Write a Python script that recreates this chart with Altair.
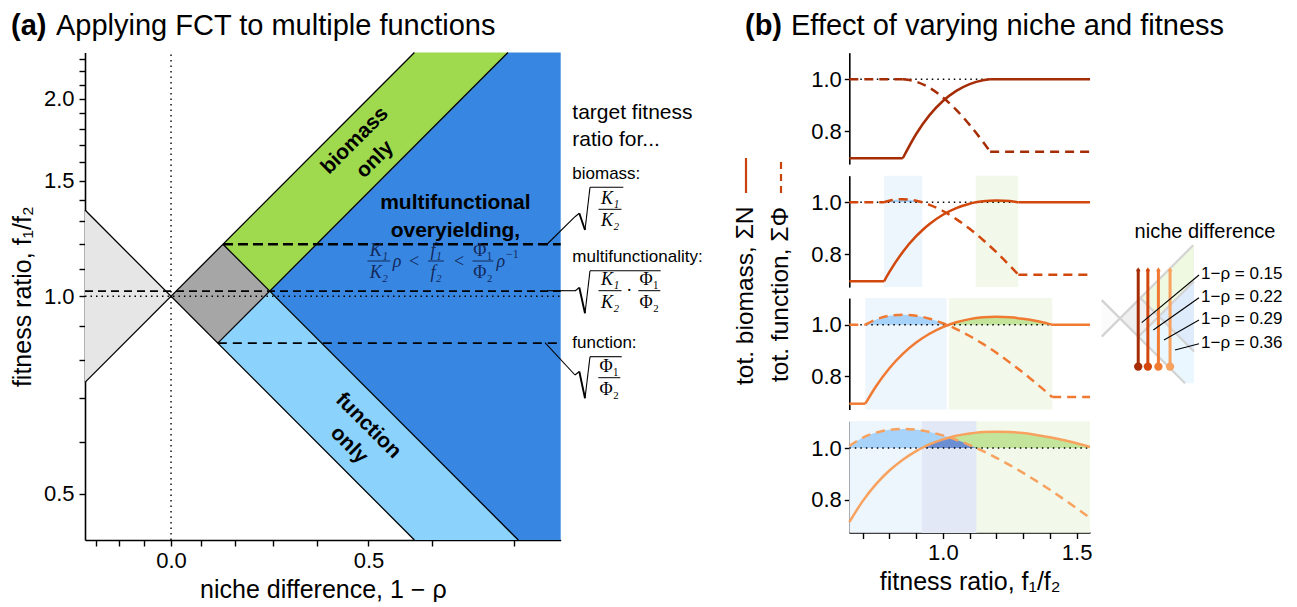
import altair as alt
import pandas as pd

W, H = 1281, 591
FONT = "Liberation Sans"
SERIF = "Liberation Serif"


def cx(x):
    return x - 8


def cy(y):
    return y - 8


ONE = pd.DataFrame({"k": [0]})

# ================= panel (a): rho = 1 - niche difference, f1/f2 =================
RHO_EDGES = [0.2546, 1.3526]
FR_EDGES = [0.4255, 2.35]

PRIORITY_RHO = [1.3526, 1.0]
PRIORITY_LO = [0.7393, 1.0]
PRIORITY_HI = [1.3526, 1.0]
NEITHER_RHO = [1.0, 0.8485, 0.8333, 0.7071]
NEITHER_LO = [1.0, 0.8485, 0.8640, 1.0182]
NEITHER_HI = [1.0, 1.1785, 1.2, 1.0182]
BIOMASS_RHO = [0.8333, 0.7071, 0.4255, 0.3064]
BIOMASS_LO = [1.2, 1.0182, 1.6921, 2.35]
BIOMASS_HI = [1.2, 1.4142, 2.35, 2.35]
FUNCTION_RHO = [0.8485, 0.7071, 0.4255, 0.2955]
FUNCTION_LO = [0.8485, 0.7071, 0.4255, 0.4255]
FUNCTION_HI = [0.8485, 1.0182, 0.6127, 0.4255]
MULTI_RHO = [0.7071, 0.3064, 0.2955, 0.2546]
MULTI_LO = [1.0182, 0.4412, 0.4255, 0.4255]
MULTI_HI = [1.0182, 2.35, 2.35, 2.35]

BOUND_RHO_FROM = [1.3526, 1.3526, 0.8485, 0.8333]
BOUND_FR_FROM = [0.7393, 1.3526, 0.8485, 1.2]
BOUND_RHO_TO = [0.4255, 0.4255, 0.3064, 0.2955]
BOUND_FR_TO = [2.35, 0.4255, 2.35, 0.4255]

TARGET_FR = [1.2, 1.0182, 0.8485]
TARGET_RHO_FROM = [0.8333, 1.3526, 0.8485]

XA_TICKS = [1.3, 1.2, 1.1, 1.0, 0.9, 0.8, 0.7, 0.6, 0.5, 0.4, 0.3]
YA_TICKS = [0.5, 0.6, 0.7, 0.8, 0.9, 1.0, 1.1, 1.2, 1.3, 1.4, 1.5, 1.6, 1.7,
            1.8, 1.9, 2.0, 2.1, 2.2, 2.3]

# ================= panel (b): totals vs fitness ratio =================
NICHE_DIFF = [0.15, 0.22, 0.29, 0.36]
FR_RANGE = [0.65, 1.55]

P1_FR = [0.65, 0.85, 0.9, 0.95, 1.0, 1.05, 1.1, 1.15, 1.1765, 1.55]
P1_BIO = [0.6944, 0.6944, 0.7885, 0.8613, 0.916, 0.9553, 0.9816, 0.9964, 1.0, 1.0]
P1_FUN = [1.0, 1.0, 0.991, 0.9669, 0.9297, 0.8818, 0.8238, 0.7578, 0.72, 0.72]

P2_FR = [0.65, 0.78, 0.8, 0.85, 0.9, 0.923, 0.95, 1.0, 1.05, 1.1, 1.1232, 1.15,
         1.2, 1.25, 1.2821, 1.55]
P2_BIO = [0.6944, 0.6944, 0.7306, 0.808, 0.8687, 0.892, 0.916, 0.952, 0.9775,
          0.9946, 1.0, 1.0041, 1.0072, 1.0046, 1.0, 1.0]
P2_FUN = [1.0, 1.0, 1.0061, 1.012, 1.0061, 1.0, 0.9903, 0.9663, 0.9349, 0.8976,
          0.8782, 0.8544, 0.8069, 0.7551, 0.72, 0.72]

P3_FR = [0.65, 0.71, 0.75, 0.8, 0.85, 0.9, 0.95, 1.0, 1.0141, 1.0224, 1.05, 1.1,
         1.15, 1.2, 1.25, 1.3, 1.35, 1.4, 1.4085, 1.55]
P3_BIO = [0.6944, 0.6944, 0.762, 0.8318, 0.8873, 0.9312, 0.9651, 0.9909, 0.9968,
          1.0, 1.0093, 1.0216, 1.0284, 1.0306, 1.0286, 1.0228, 1.0141, 1.0022,
          1.0, 1.0]
P3_FUN = [1.0, 1.0, 1.0202, 1.0345, 1.0387, 1.0345, 1.0232, 1.0058, 1.0, 0.9964,
          0.9833, 0.9562, 0.9256, 0.8913, 0.854, 0.8143, 0.7719, 0.7278, 0.72, 0.72]

P4_FR = [0.65, 0.7, 0.75, 0.8, 0.85, 0.9, 0.9216, 0.95, 1.0, 1.025, 1.05, 1.1,
         1.125, 1.15, 1.2, 1.25, 1.3, 1.35, 1.4, 1.45, 1.5, 1.55]
P4_BIO = [0.7129, 0.7944, 0.8601, 0.9128, 0.9548, 0.988, 1.0, 1.0137, 1.0332,
          1.0408, 1.0473, 1.0564, 1.0595, 1.0617, 1.0633, 1.0618, 1.0576, 1.0506,
          1.0418, 1.0308, 1.0181, 1.0039]
P4_FUN = [1.008, 1.0395, 1.0596, 1.0705, 1.0737, 1.0705, 1.0674, 1.0618, 1.0488,
          1.0407, 1.0317, 1.0114, 1.0, 0.988, 0.9621, 0.9339, 0.9036, 0.8718,
          0.8383, 0.8032, 0.7669, 0.7295]

KINK_LO = [0.85, 0.78, 0.71, None]
KINK_HI = [1.1765, 1.2821, 1.4085, None]

FUN_BAND_LO = [None, 0.78, 0.71, 0.65]
FUN_BAND_HI = [None, 0.923, 1.0141, 1.125]
BIO_BAND_LO = [None, 1.1232, 1.0224, 0.9216]
BIO_BAND_HI = [None, 1.2821, 1.4085, 1.55]

XB_TICKS = [0.7, 0.8, 0.9, 1.0, 1.1, 1.2, 1.3, 1.4, 1.5]
YB_DOMAIN = [0.672, 1.103]

# ================= inset: mini phase diagram =================
I_RHO_EDGES = [0.517, 1.177]
I_FR_EDGES = [0.56, 1.92]
I_PRIORITY_RHO = [1.177, 1.0]
I_PRIORITY_LO = [0.8496, 1.0]
I_PRIORITY_HI = [1.177, 1.0]
I_BIOMASS_RHO = [0.8333, 0.7071, 0.5208, 0.517]
I_BIOMASS_LO = [1.2, 1.0182, 1.3825, 1.3926]
I_BIOMASS_HI = [1.2, 1.4142, 1.92, 1.92]
I_FUNCTION_RHO = [0.8485, 0.7071, 0.56, 0.517]
I_FUNCTION_LO = [0.8485, 0.7071, 0.56, 0.56]
I_FUNCTION_HI = [0.8485, 1.0182, 0.8064, 0.7445]
I_MULTI_RHO = [0.7071, 0.517]
I_MULTI_LO = [1.0182, 0.7445]
I_MULTI_HI = [1.0182, 1.3926]
I_BOUND_RHO_FROM = [1.177, 1.177, 0.8485, 0.8333]
I_BOUND_FR_FROM = [0.8496, 1.177, 0.8485, 1.2]
I_BOUND_RHO_TO = [0.5208, 0.56, 0.517, 0.517]
I_BOUND_FR_TO = [1.92, 0.56, 1.3926, 0.7445]

# ================= styles =================
C_PRIORITY = "#e6e6e6"
C_NEITHER = "#a6a6a6"
C_BIOMASS = "#9fda4e"
C_FUNCTION = "#8bd2fd"
C_MULTI = "#3787e2"
SERIES_COLORS = ["#a62c05", "#d2480c", "#f17a33", "#f7a25f"]
BAND_BLUE, BAND_GREEN, BAND_BOTH = "#edf5fd", "#f2f8ea", "#e2e8f5"
FILL_BLUE, FILL_GREEN, FILL_BOTH = "#a7d3fa", "#c3e59b", "#6b8fd2"
NAVY = "#13285a"

AX = dict(grid=False, domainColor="black", tickColor="black", labelColor="black",
          titleColor="black", labelFont=FONT, titleFont=FONT,
          titleFontWeight="normal", labelOverlap=False, labelFlush=False,
          domainWidth=1.6, tickWidth=1.4)


def T(x, y, s, size=20, bold=False, align="left", angle=0, font=FONT,
      italic=False, color="black"):
    return alt.Chart(ONE).mark_text(
        text=s, font=font, fontSize=size, fontWeight="bold" if bold else "normal",
        fontStyle="italic" if italic else "normal", align=align,
        baseline="middle", angle=angle, color=color,
    ).encode(x=alt.value(cx(x)), y=alt.value(cy(y)))


def R(x1, y1, x2, y2, width=1.1, color="black", dash=None):
    kw = dict(color=color, strokeWidth=width)
    if dash:
        kw["strokeDash"] = dash
    return alt.Chart(ONE).mark_rule(**kw).encode(
        x=alt.value(cx(x1)), y=alt.value(cy(y1)),
        x2=alt.value(cx(x2)), y2=alt.value(cy(y2)))


def frac(xc, ybar, num, den, half, size=18, color="black", italic=True):
    return [T(xc, ybar - 10.5, num, size, align="center", font=SERIF,
              italic=italic, color=color),
            R(xc - half, ybar, xc + half, ybar, 1.0, color),
            T(xc, ybar + 12, den, size, align="center", font=SERIF,
              italic=italic, color=color)]


def radical(x0, yt, yb, ytop, xend):
    return [R(x0, yt, x0 + 4.3, yt - 3.5, 1.1),
            R(x0 + 4.3, yt - 3.5, x0 + 10, yb, 1.9),
            R(x0 + 10, yb, x0 + 15, ytop, 1.1),
            R(x0 + 15, ytop, xend, ytop, 1.1)]


# ---------------- panel (a) ----------------
XA = alt.Scale(type="log", domain=RHO_EDGES, range=[cx(560.7), cx(85)], nice=False)
YA = alt.Scale(type="log", domain=FR_EDGES, range=[cy(540), cy(52.5)], nice=False)
AXA_X = alt.Axis(orient="bottom", offset=cy(540) - H, values=XA_TICKS,
                 labelExpr="datum.value == 1 ? '0.0' : (datum.value == 0.5 ? '0.5' : '')",
                 title="niche difference, 1 − ρ", tickSize=6, labelFontSize=22,
                 labelPadding=4, titleFontSize=25, titlePadding=6, **AX)
AXA_Y = alt.Axis(orient="left", offset=-cx(85), values=YA_TICKS,
                 labelExpr="(datum.value == 0.5 || datum.value == 1 || datum.value == 1.5 || datum.value == 2) ? format(datum.value, '.1f') : ''",
                 title="fitness ratio, f₁/f₂", tickSize=6, labelFontSize=22,
                 labelPadding=5, titleFontSize=25, titlePadding=8, **AX)


def xa(f):
    return alt.X(f, scale=XA, axis=AXA_X)


def ya(f):
    return alt.Y(f, scale=YA, axis=AXA_Y)


layers_a = []
for rho, lo, hi, col in [
    (PRIORITY_RHO, PRIORITY_LO, PRIORITY_HI, C_PRIORITY),
    (NEITHER_RHO, NEITHER_LO, NEITHER_HI, C_NEITHER),
    (BIOMASS_RHO, BIOMASS_LO, BIOMASS_HI, C_BIOMASS),
    (FUNCTION_RHO, FUNCTION_LO, FUNCTION_HI, C_FUNCTION),
    (MULTI_RHO, MULTI_LO, MULTI_HI, C_MULTI),
]:
    df = pd.DataFrame({"rho": rho, "lo": lo, "hi": hi})
    layers_a.append(alt.Chart(df).mark_area(color=col, opacity=1).encode(
        x=xa("rho:Q"), y=ya("lo:Q"), y2="hi:Q"))

bounds = pd.DataFrame({"r0": BOUND_RHO_FROM, "f0": BOUND_FR_FROM,
                       "r1": BOUND_RHO_TO, "f1": BOUND_FR_TO})
layers_a.append(alt.Chart(bounds).mark_rule(color="black", strokeWidth=1.3).encode(
    x=xa("r0:Q"), y=ya("f0:Q"), x2="r1:Q", y2="f1:Q"))

dotted = pd.DataFrame({"r0": [RHO_EDGES[1]], "r1": [RHO_EDGES[0]], "f": [1.0]})
layers_a.append(alt.Chart(dotted).mark_rule(color="black", strokeWidth=1.4,
                                            strokeDash=[1.5, 4]).encode(
    x=xa("r0:Q"), x2="r1:Q", y=ya("f:Q")))
vdotted = pd.DataFrame({"r": [1.0], "f0": [FR_EDGES[0]], "f1": [FR_EDGES[1]]})
layers_a.append(alt.Chart(vdotted).mark_rule(color="black", strokeWidth=1.4,
                                             strokeDash=[1.5, 4]).encode(
    x=xa("r:Q"), y=ya("f0:Q"), y2="f1:Q"))

for i, (w, dash) in enumerate([(2.4, [10, 5]), (1.7, [8, 5]), (1.7, [9, 6])]):
    df = pd.DataFrame({"r0": [TARGET_RHO_FROM[i]], "r1": [RHO_EDGES[0]],
                       "f": [TARGET_FR[i]]})
    layers_a.append(alt.Chart(df).mark_rule(color="black", strokeWidth=w,
                                            strokeDash=dash).encode(
        x=xa("r0:Q"), x2="r1:Q", y=ya("f:Q")))

group_a = alt.layer(*layers_a)

# ---------------- panel (b) ----------------
XB = alt.Scale(domain=FR_RANGE, range=[cx(849.3), cx(1090)], nice=False, zero=False)
AXB_X = alt.Axis(orient="bottom", offset=cy(532.5) - H, values=XB_TICKS,
                 labelExpr="datum.value == 1 ? '1.0' : (datum.value == 1.5 ? '1.5' : '')",
                 title="fitness ratio, f₁/f₂", tickSize=6, labelFontSize=22,
                 labelPadding=4, titleFontSize=25, titlePadding=6, **AX)
ONE_Y = [79.3, 202.3, 324.7, 448.0]
PX_PER_UNIT = 258.5

curves = [(P1_FR, P1_BIO, P1_FUN), (P2_FR, P2_BIO, P2_FUN),
          (P3_FR, P3_BIO, P3_FUN), (P4_FR, P4_BIO, P4_FUN)]


def segment_table(fr, bio, fun, lo, hi):
    rows = []
    for f, b, p in zip(fr, bio, fun):
        segs = []
        if lo is None:
            segs = ["M"]
        else:
            if f <= lo:
                segs.append("L")
            if lo <= f <= hi:
                segs.append("M")
            if f >= hi:
                segs.append("R")
        for s in segs:
            rows.append({"fr": f, "bio": b, "fun": p, "seg": s})
    return pd.DataFrame(rows)


groups_b = []
for i in range(4):
    y1 = ONE_Y[i]
    top = y1 - (YB_DOMAIN[1] - 1.0) * PX_PER_UNIT
    bot = y1 + (1.0 - YB_DOMAIN[0]) * PX_PER_UNIT
    YB = alt.Scale(domain=YB_DOMAIN, range=[cy(bot), cy(top)], nice=False, zero=False)
    axy = alt.Axis(orient="left", offset=-cx(849.3), values=[0.8, 1.0], format=".1f",
                   title=None, tickSize=5, labelFontSize=22, labelPadding=3, **AX)
    axx = AXB_X if i == 3 else None

    def xb(f, axx=axx):
        return alt.X(f, scale=XB, axis=axx)

    def yb(f, YB=YB, axy=axy):
        return alt.Y(f, scale=YB, axis=axy)

    fr, bio, fun = curves[i]
    base = pd.DataFrame({"fr": fr, "bio": bio, "fun": fun})
    segdf = segment_table(fr, bio, fun, KINK_LO[i], KINK_HI[i])
    col = SERIES_COLORS[i]
    lay = []
    if FUN_BAND_LO[i] is not None:
        for lo, hi, c in [(FUN_BAND_LO[i], FUN_BAND_HI[i], BAND_BLUE),
                          (BIO_BAND_LO[i], BIO_BAND_HI[i], BAND_GREEN)]:
            bdf = pd.DataFrame({"lo": [lo], "hi": [hi]})
            lay.append(alt.Chart(bdf).mark_rect(color=c).encode(
                x=xb("lo:Q"), x2="hi:Q", y=alt.value(cy(top)), y2=alt.value(cy(bot))))
        olo = max(FUN_BAND_LO[i], BIO_BAND_LO[i])
        ohi = min(FUN_BAND_HI[i], BIO_BAND_HI[i])
        if olo < ohi:
            odf = pd.DataFrame({"lo": [olo], "hi": [ohi]})
            lay.append(alt.Chart(odf).mark_rect(color=BAND_BOTH).encode(
                x=xb("lo:Q"), x2="hi:Q", y=alt.value(cy(top)), y2=alt.value(cy(bot))))
        for expr, c in [("max(datum.fun, 1)", FILL_BLUE),
                        ("max(datum.bio, 1)", FILL_GREEN),
                        ("max(min(datum.bio, datum.fun), 1)", FILL_BOTH)]:
            lay.append(alt.Chart(base).transform_calculate(top=expr, one="1").mark_area(
                color=c, interpolate="monotone").encode(
                x=xb("fr:Q"), y=yb("top:Q"), y2="one:Q"))
    ref = pd.DataFrame({"x0": [FR_RANGE[0]], "x1": [FR_RANGE[1]], "y": [1.0]})
    lay.append(alt.Chart(ref).mark_rule(color="black", strokeWidth=1.4,
                                        strokeDash=[1.5, 4]).encode(
        x=xb("x0:Q"), x2="x1:Q", y=yb("y:Q")))
    lay.append(alt.Chart(segdf).mark_line(color=col, strokeWidth=2.5,
                                          interpolate="monotone").encode(
        x=xb("fr:Q"), y=yb("bio:Q"), detail="seg:N"))
    lay.append(alt.Chart(segdf).mark_line(color=col, strokeWidth=2.5, strokeDash=[9, 6],
                                          interpolate="monotone").encode(
        x=xb("fr:Q"), y=yb("fun:Q"), detail="seg:N"))
    groups_b.append(alt.layer(*lay))

# ---------------- inset ----------------
XI = alt.Scale(type="log", domain=I_RHO_EDGES, range=[cx(1194), cx(1101.7)], nice=False)
YI = alt.Scale(type="log", domain=I_FR_EDGES, range=[cy(383.3), cy(245.3)], nice=False)


def xi(f):
    return alt.X(f, scale=XI, axis=None)


def yi(f):
    return alt.Y(f, scale=YI, axis=None)


lay_i = []
for rho, lo, hi, col in [
    (I_PRIORITY_RHO, I_PRIORITY_LO, I_PRIORITY_HI, C_PRIORITY),
    (NEITHER_RHO, NEITHER_LO, NEITHER_HI, C_NEITHER),
    (I_BIOMASS_RHO, I_BIOMASS_LO, I_BIOMASS_HI, C_BIOMASS),
    (I_FUNCTION_RHO, I_FUNCTION_LO, I_FUNCTION_HI, C_FUNCTION),
    (I_MULTI_RHO, I_MULTI_LO, I_MULTI_HI, C_MULTI),
]:
    df = pd.DataFrame({"rho": rho, "lo": lo, "hi": hi})
    lay_i.append(alt.Chart(df).mark_area(color=col, opacity=0.17).encode(
        x=xi("rho:Q"), y=yi("lo:Q"), y2="hi:Q"))
ib = pd.DataFrame({"r0": I_BOUND_RHO_FROM, "f0": I_BOUND_FR_FROM,
                   "r1": I_BOUND_RHO_TO, "f1": I_BOUND_FR_TO})
lay_i.append(alt.Chart(ib).mark_rule(color="#d3d3d3", strokeWidth=2.2).encode(
    x=xi("r0:Q"), y=yi("f0:Q"), x2="r1:Q", y2="f1:Q"))
for i, nd in enumerate(NICHE_DIFF):
    sdf = pd.DataFrame({"nd": [nd], "f0": [FR_RANGE[0]], "f1": [FR_RANGE[1]]})
    base_i = alt.Chart(sdf).transform_calculate(rho="1 - datum.nd")
    lay_i.append(base_i.mark_rule(color=SERIES_COLORS[i], strokeWidth=3).encode(
        x=xi("rho:Q"), y=yi("f0:Q"), y2="f1:Q"))
    lay_i.append(base_i.mark_point(shape="circle", filled=True, size=70, opacity=1,
                                   color=SERIES_COLORS[i]).encode(
        x=xi("rho:Q"), y=yi("f0:Q")))
    lay_i.append(base_i.mark_point(shape="triangle-up", filled=True, size=22, opacity=1,
                                   color=SERIES_COLORS[i]).encode(
        x=xi("rho:Q"), y=yi("f1:Q")))
group_i = alt.layer(*lay_i)

# ---------------- annotations ----------------
ann = []
ann += [T(11, 26, "(a)", 29, bold=True),
        T(56, 26, "Applying FCT to multiple functions", 29),
        T(745, 26, "(b)", 29, bold=True),
        T(791, 26, "Effect of varying niche and fitness", 29)]
# panel (a) labels
ann += [T(354.8, 140.7, "biomass", 21, bold=True, align="center", angle=315),
        T(375, 159.6, "only", 21, bold=True, align="center", angle=315),
        T(368.2, 425.7, "function", 21, bold=True, align="center", angle=45),
        T(349, 445, "only", 21, bold=True, align="center", angle=45),
        T(455.4, 202.5, "multifunctional", 21, bold=True, align="center"),
        T(455.4, 231, "overyielding,", 21, bold=True, align="center")]
# inline inequality
ann += frac(378.9, 261, "K₁", "K₂", 11.5, 18, NAVY)
ann += [T(397, 262, "ρ", 18, font=SERIF, italic=True, color=NAVY, align="center"),
        T(414, 262, "<", 18, font=SERIF, color=NAVY, align="center")]
ann += frac(436, 261, "f₁", "f₂", 8, 18, NAVY)
ann += [T(459, 262, "<", 18, font=SERIF, color=NAVY, align="center")]
ann += frac(483, 261, "Φ₁", "Φ₂", 10.5, 18, NAVY, italic=False)
ann += [T(496.5, 262, "ρ", 18, font=SERIF, italic=True, color=NAVY),
        T(506, 254, "−1", 12, font=SERIF, color=NAVY)]
# target side labels
ann += [T(572.3, 112.5, "target fitness", 21),
        T(572.3, 140, "ratio for...", 21),
        T(572.3, 174.3, "biomass:", 17),
        T(572.3, 256.7, "multifunctionality:", 17),
        T(572.3, 343.3, "function:", 17)]
ann += [R(547.3, 244, 575, 216.7), R(547, 290.7, 575, 290.7), R(545, 342.7, 575, 375)]
ann += radical(575, 216.7, 230, 187.3, 623.3) + frac(610, 209.3, "K₁", "K₂", 11.5)
ann += radical(575, 291, 313.3, 270.7, 660.7) + frac(610, 290.7, "K₁", "K₂", 11.5)
ann += [T(629.3, 291, "·", 18, align="center", font=SERIF)]
ann += frac(649.3, 290.7, "Φ₁", "Φ₂", 11, italic=False)
ann += radical(575, 375, 398.3, 356.7, 621.7) + frac(609.3, 377.7, "Φ₁", "Φ₂", 11, italic=False)
# panel (b) y label with line keys
ann += [T(746, 385, "tot. biomass, ΣN", 24.5, angle=270),
        R(746, 193, 746, 158, 2.2, "#c8440e"),
        T(781, 382, "tot. function, ΣΦ", 24.5, angle=270),
        R(781, 193, 781, 160, 2.2, "#c8440e", [7, 5])]
# inset labels
ann += [T(1205, 231.7, "niche difference", 20, align="center")]
for j, (ly, ex, ey) in enumerate([(274, 1141.7, 322.7), (296.7, 1153.3, 330),
                                  (319, 1164, 340), (342.7, 1175, 350)]):
    ann.append(R(1199, ly + 1, ex, ey, 1.1))
    ann.append(T(1201, ly, f"1−ρ = {NICHE_DIFF[j]:.2f}", 17))

chart = alt.layer(group_a, *groups_b, group_i, *ann).resolve_scale(
    x="independent", y="independent"
).properties(width=W, height=H, padding=0).configure_view(stroke=None)

chart.save("out.html", embed_options={"renderer": "svg", "actions": False})
